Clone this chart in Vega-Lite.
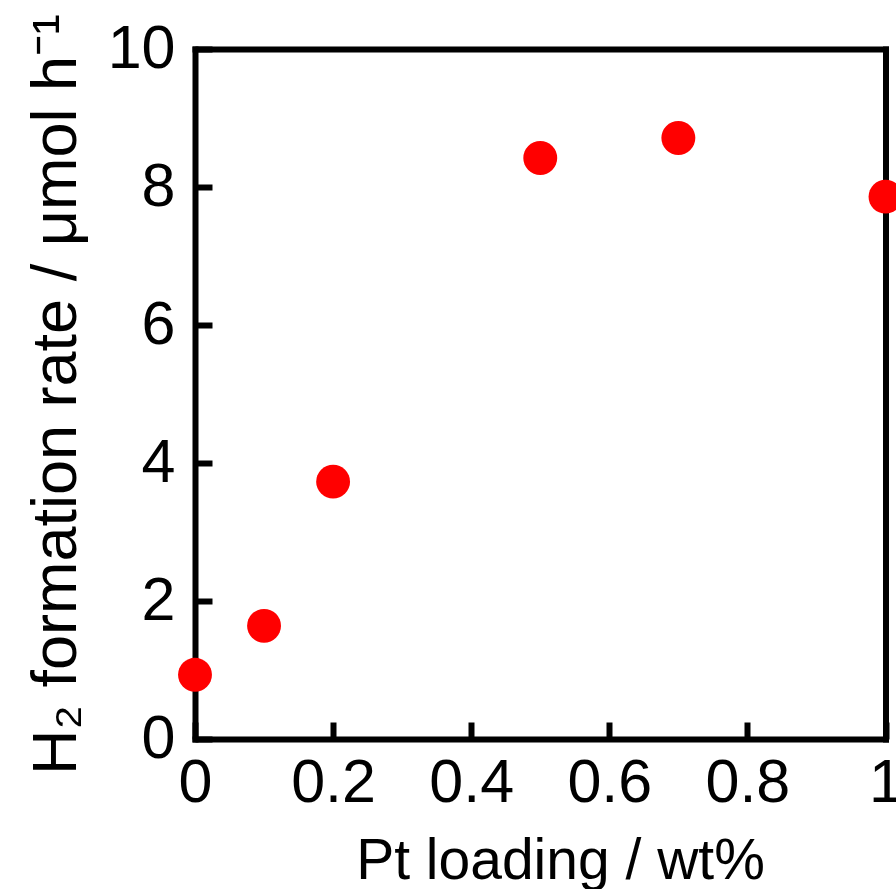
{
  "$schema": "https://vega.github.io/schema/vega-lite/v6.json",
  "width": 690.5,
  "height": 690,
  "autosize": {"type": "none"},
  "padding": {"left": 195, "top": 49, "right": 10.5, "bottom": 150},
  "background": "white",
  "config": {
    "view": {"stroke": null},
    "font": "Liberation Sans",
    "axis": {
      "domainColor": "black",
      "domainWidth": 6,
      "domainCap": "square",
      "tickColor": "black",
      "tickWidth": 6,
      "tickSize": -17,
      "grid": false,
      "labelFont": "Liberation Sans",
      "labelFontSize": 61,
      "labelColor": "black",
      "labelOverlap": false,
      "labelFlush": false,
      "labelBound": false,
      "titleFont": "Liberation Sans",
      "titleFontWeight": "normal",
      "titleColor": "black"
    }
  },
  "data": {
    "values": [
      {"pt": 0.0, "rate": 0.93},
      {"pt": 0.1, "rate": 1.64},
      {"pt": 0.2, "rate": 3.73},
      {"pt": 0.5, "rate": 8.42},
      {"pt": 0.7, "rate": 8.71},
      {"pt": 1.0, "rate": 7.86}
    ]
  },
  "layer": [
    {
      "mark": {"type": "point", "filled": true, "opacity": 0, "size": 10},
      "encoding": {
        "x": {
          "field": "pt", "type": "quantitative",
          "scale": {"domain": [0, 1], "nice": false, "zero": false},
          "axis": {"orient": "top", "labels": false, "ticks": false, "title": null}
        },
        "y": {
          "field": "rate", "type": "quantitative",
          "scale": {"domain": [0, 10], "nice": false, "zero": false},
          "axis": {"orient": "right", "labels": false, "ticks": false, "title": null}
        }
      }
    },
    {
      "mark": {"type": "circle", "color": "#ff0000", "opacity": 1, "size": 1150},
      "encoding": {
        "x": {
          "field": "pt", "type": "quantitative",
          "scale": {"domain": [0, 1], "nice": false, "zero": false},
          "axis": {
            "orient": "bottom",
            "values": [0, 0.2, 0.4, 0.6, 0.8, 1],
            "format": "~g",
            "labelPadding": 31,
            "title": "Pt loading / wt%",
            "titleFontSize": 57,
            "titleBaseline": "alphabetic",
            "titleAnchor": "start",
            "titleAlign": "center",
            "titleX": 365,
            "titleY": 139
          }
        },
        "y": {
          "field": "rate", "type": "quantitative",
          "scale": {"domain": [0, 10], "nice": false, "zero": false},
          "axis": {
            "orient": "left",
            "values": [0, 2, 4, 6, 8, 10],
            "format": "d",
            "labelPadding": 37,
            "title": "H₂ formation rate / μmol h⁻¹",
            "titleFontSize": 63,
            "titleAngle": 270,
            "titleBaseline": "alphabetic",
            "titleAlign": "center",
            "titleAnchor": "start",
            "titleX": -120,
            "titleY": 345
          }
        }
      }
    }
  ],
  "resolve": {"axis": {"x": "independent", "y": "independent"}}
}
